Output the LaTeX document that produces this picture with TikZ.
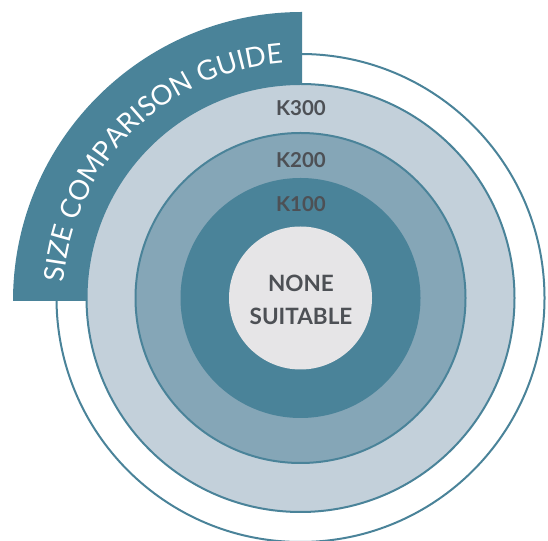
\documentclass[tikz,border=0pt]{standalone}
\usepackage{fontspec}
\setmainfont{Lato}
\usetikzlibrary{decorations.text}
\definecolor{teal1}{HTML}{4A8399}
\definecolor{ring3}{HTML}{C3D0DA}
\definecolor{ring2}{HTML}{85A6B7}
\definecolor{core}{HTML}{E6E5E7}
\definecolor{txt}{HTML}{4D5055}
\begin{document}
\begin{tikzpicture}[x=1pt,y=1pt,
  ring/.style={circle, inner sep=0pt, draw=teal1, line width=2pt},
  lbl/.style={text=txt, font=\fontsize{20.5}{24}\selectfont\bfseries}]
\useasboundingbox (0,0) rectangle (548,540);
\coordinate (c) at (300.5,242);
\coordinate (bc) at (302,239);
\node[ring, minimum size=488pt] (outer) at (c) {};
\fill[teal1] (bc) ++(180:289) arc[start angle=180,end angle=90,radius=289]
  -- ++(0,-77) arc[start angle=90,end angle=180,radius=212] -- cycle;
\path[decorate, decoration={text along path, text align=center,
  text={|\color{white}\fontsize{27.5}{30}\selectfont|SIZE COMPARISON GUIDE}}]
  (bc) ++(180:239) arc[start angle=180,end angle=90,radius=239];
\node[ring, fill=ring3, minimum size=428pt] (k300) at (c) {};
\node[ring, fill=ring2, minimum size=330pt] (k200) at (c) {};
\node[circle, inner sep=0pt, fill=teal1, minimum size=240pt] (k100) at (c) {};
\node[circle, inner sep=0pt, fill=core, minimum size=143pt] (none) at (c) {};
\node[lbl] (t300) at (301,432) {K300};
\node[lbl] (t200) at (301,380) {K200};
\node[lbl] (t100) at (301,336) {K100};
\node[lbl, font=\fontsize{22.5}{33}\selectfont\bfseries, align=center] (tnone) at (301,240) {NONE\\SUITABLE};
\end{tikzpicture}
\end{document}
